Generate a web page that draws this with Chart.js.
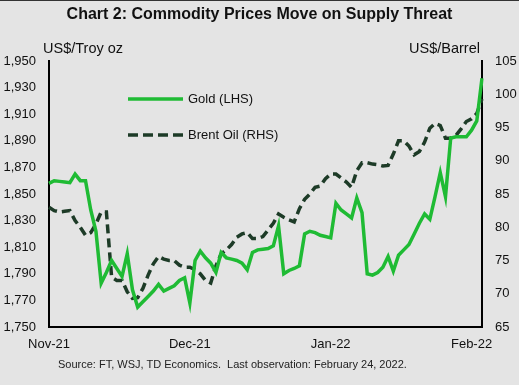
<!DOCTYPE html>
<html>
<head>
<meta charset="utf-8">
<script src="https://cdn.jsdelivr.net/npm/chart.js@4.4.1/dist/chart.umd.min.js"></script>
<style>
  body { margin: 0; background: #e4e4e4; }
  #wrap { position: relative; width: 519px; height: 385px; background: #e4e4e4; border-top: 1px solid #333; box-sizing: border-box; font-family: "Liberation Sans", Arial, sans-serif; color: #111; }
  #wrap canvas { position: absolute; left: 0; top: 0; }
  .txt { position: absolute; white-space: pre; }
  #title { left: 0; width: 519px; top: 4px; text-align: center; font-weight: bold; font-size: 16px; }
  #lhs { left: 43px; top: 39px; font-size: 14.5px; }
  #rhs { left: 409px; top: 39px; font-size: 14.5px; }
  #source { left: 58px; top: 357px; font-size: 11px; color: #222; }
</style>
</head>
<body>
<div id="wrap">
  <canvas id="chart" width="519" height="384"></canvas>
  <div class="txt" id="title">Chart 2: Commodity Prices Move on Supply Threat</div>
  <div class="txt" id="lhs">US$/Troy oz</div>
  <div class="txt" id="rhs">US$/Barrel</div>
  <div class="txt" id="source">Source: FT, WSJ, TD Economics.  Last observation: February 24, 2022.</div>
</div>
<script>
// daily (weekday) observations, Nov 1 2021 - Feb 24 2022
const gold = [
  1858, 1860, 1859.5, 1859, 1858.5, 1865, 1860, 1860, 1838, 1822,
  1783, 1791, 1800, 1794, 1788, 1805, 1778, 1765, 1769, 1773,
  1777, 1782, 1777, 1779, 1781, 1785, 1787, 1768, 1800, 1807,
  1802, 1798, 1791, 1806, 1802, 1801, 1800, 1798, 1793, 1806,
  1808, 1808.5, 1809, 1811, 1826, 1790, 1792.5, 1794, 1796, 1820,
  1822, 1821, 1819, 1818, 1817, 1843, 1838, 1835, 1832, 1847,
  1836, 1790, 1789, 1791, 1795, 1803, 1792, 1804, 1808, 1812,
  1820, 1828, 1835, 1831, 1848, 1866, 1848, 1892, 1893, 1893,
  1893, 1898, 1905, 1937
];
const brent = [
  83, 82.5, 82.3, 82.4, 82.5, 81, 80, 78.8, 79.2, 80.5,
  82.3, 82.3, 72.5, 72, 72, 70.3, 69.3, 69.4, 70.8, 72.8,
  74.5, 75.6, 75.2, 75, 75, 74.3, 74, 74, 73.6, 73,
  72, 71.6, 74.2, 76, 76.6, 77.4, 78.5, 79, 79.2, 78.3,
  78.3, 78.6, 79.6, 80.6, 82, 81.5, 81.1, 80.8, 82.8, 84.2,
  85, 86, 86.2, 87.3, 88, 88, 87.4, 86.8, 86, 88.5,
  89.7, 89.7, 89.5, 89.4, 89.2, 89.3, 91, 93, 93, 92.2,
  90.9, 91.4, 92.8, 94.9, 95.6, 95.3, 93.4, 93.4, 93.8, 94.8,
  95.9, 96.3, 97.1, 99.3
];
const tickIndex = [0, 27, 54, 81];
const tickLabels = ['Nov-21', 'Dec-21', 'Jan-22', 'Feb-22'];

const goldColor = '#1fbb34';
const oilColor = '#1d3b27';
const font = { family: '"Liberation Sans", Arial, sans-serif', size: 13 };

const legendPlugin = {
  id: 'insideLegend',
  afterDraw(chart) {
    const ctx = chart.ctx;
    ctx.save();
    ctx.lineWidth = 3.5;
    ctx.strokeStyle = goldColor;
    ctx.beginPath(); ctx.moveTo(128, 98); ctx.lineTo(183, 98); ctx.stroke();
    ctx.strokeStyle = oilColor;
    ctx.setLineDash([10, 5]);
    ctx.beginPath(); ctx.moveTo(128, 134); ctx.lineTo(183, 134); ctx.stroke();
    ctx.setLineDash([]);
    ctx.fillStyle = '#111';
    ctx.font = '13px "Liberation Sans", Arial, sans-serif';
    ctx.textBaseline = 'middle';
    ctx.fillText('Gold (LHS)', 188, 98);
    ctx.fillText('Brent Oil (RHS)', 188, 134);
    ctx.restore();
  }
};

new Chart(document.getElementById('chart'), {
  type: 'line',
  data: {
    labels: gold.map((_, i) => i),
    datasets: [
      {
        label: 'Gold (LHS)',
        data: gold,
        yAxisID: 'y',
        borderColor: goldColor,
        borderWidth: 3.5,
        pointRadius: 0,
        tension: 0
      },
      {
        label: 'Brent Oil (RHS)',
        data: brent,
        yAxisID: 'y1',
        borderColor: oilColor,
        borderWidth: 3.5,
        borderDash: [9, 5],
        pointRadius: 0,
        tension: 0
      }
    ]
  },
  options: {
    responsive: false,
    animation: false,
    layout: { padding: { top: 60, left: 0, right: 0, bottom: 0 } },
    plugins: {
      legend: { display: false },
      tooltip: { enabled: false }
    },
    scales: {
      x: {
        offset: false,
        grid: { display: false, drawTicks: false },
        border: { display: true, color: '#000', width: 2 },
        ticks: {
          autoSkip: false,
          maxRotation: 0,
          padding: 10,
          color: '#111',
          font: font,
          callback: (v, i) => {
            const k = tickIndex.indexOf(i);
            return k >= 0 ? tickLabels[k] : '';
          }
        },
        afterFit: (s) => { s.height = 58; }
      },
      y: {
        position: 'left',
        min: 1750,
        max: 1950,
        grid: { display: false, drawTicks: false },
        border: { display: true, color: '#000', width: 2 },
        ticks: {
          stepSize: 20,
          padding: 13,
          color: '#111',
          font: font,
          callback: (v) => v.toLocaleString('en-US')
        },
        afterFit: (s) => { s.width = 49; }
      },
      y1: {
        position: 'right',
        min: 65,
        max: 105,
        grid: { display: false, drawTicks: false },
        border: { display: true, color: '#000', width: 2 },
        ticks: {
          stepSize: 5,
          padding: 13,
          color: '#111',
          font: font
        },
        afterFit: (s) => { s.width = 37; }
      }
    }
  },
  plugins: [legendPlugin]
});
</script>
</body>
</html>
